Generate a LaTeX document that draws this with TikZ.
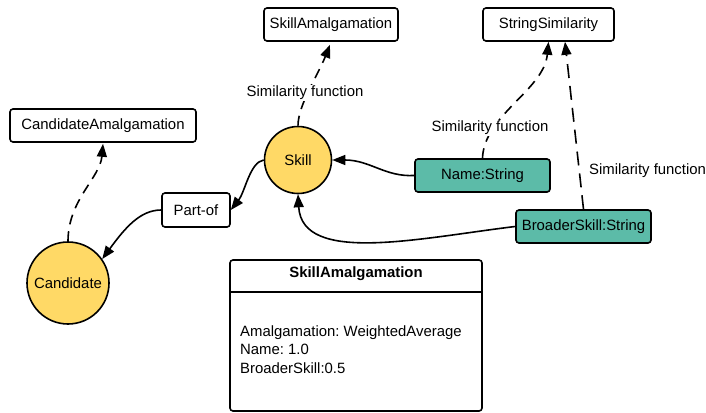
\documentclass[tikz,border=0pt]{standalone}
\usepackage{fontspec}
\setmainfont{Liberation Sans}
\usetikzlibrary{arrows.meta,calc}
\definecolor{yel}{HTML}{FFD966}
\definecolor{teal2}{HTML}{5CBBA8}
\frenchspacing
\tikzset{
  box/.style={draw, line width=1.6pt, rounded corners=3pt, fill=white, inner sep=0pt, minimum height=33pt, font=\fontsize{14.9}{18}\selectfont},
  tealbox/.style={box, fill=teal2},
  circ/.style={draw, circle, line width=1.6pt, fill=yel, inner sep=0pt, font=\fontsize{14.9}{18}\selectfont},
  conn/.style={line width=1.6pt, -{Triangle[length=13pt,width=10pt]}},
  dconn/.style={conn, dash pattern=on 10pt off 7pt},
  lbl/.style={fill=white, inner sep=1pt, font=\fontsize{14.9}{18}\selectfont},
}
\begin{document}
\begin{tikzpicture}[x=1pt,y=-1pt]
\useasboundingbox (0,0) rectangle (706,412);
% nodes
\node[box, minimum width=134pt] (sa) at (331,24.5) {SkillAmalgamation};
\node[box, minimum width=131pt] (ss) at (548.5,24.5) {StringSimilarity};
\node[box, minimum width=186pt] (ca) at (103,125.5) {CandidateAmalgamation};
\node[circ, minimum size=67pt] (skill) at (298,160) {Skill};
\node[box, minimum width=68pt, minimum height=34pt] (partof) at (196,210) {Part-of};
\node[circ, minimum size=82pt] (cand) at (68,283) {Candidate};
\node[tealbox, minimum width=135pt] (name) at (482.5,175.5) {Name:String};
\node[tealbox, minimum width=135pt] (broader) at (583.5,226.5) {BroaderSkill:String};
% table
\draw[line width=1.6pt, rounded corners=3pt] (230,260) rectangle (482,411);
\draw[line width=1.6pt] (230,292) -- (482,292);
\node[font=\fontsize{14.9}{18}\selectfont\bfseries] (ttitle) at (356,274) {SkillAmalgamation};
\node[anchor=west, align=left, inner sep=0pt, font=\fontsize{14.9}{18.5}\selectfont] (tbody) at (240,349.5) {Amalgamation: WeightedAverage\\Name: 1.0\\BroaderSkill:0.5};
% connectors
\draw[dconn] (skill.north) .. controls (298,105) and (318,75) .. ([xshift=-1pt,yshift=-3pt]sa.south);
\node[lbl] (l1) at (305,93) {Similarity function};
\draw[dconn] (name.north) .. controls (484,115) and (544,90) .. (ss.south);
\node[lbl] (l2) at (490,128) {Similarity function};
\draw[conn, dash pattern=on 14pt off 8pt] (broader.north) -- ([xshift=16.5pt]ss.south);
\node[lbl, anchor=west] (l3) at (588,171) {Similarity function};
\draw[conn] (name.west) .. controls (385,177) and (370,160) .. (skill.east);
\draw[conn] (broader.west) .. controls (420,238) and (302,265) .. (skill.south);
\draw[conn] (skill.west) .. controls (250,162) and (245,192) .. (partof.east);
\draw[conn] (partof.west) .. controls (140,210) and (125,228) .. (cand.35);
\draw[dconn] (cand.north) .. controls (68,200) and (100,178) .. ([yshift=-1pt]ca.south);
\end{tikzpicture}
\end{document}
